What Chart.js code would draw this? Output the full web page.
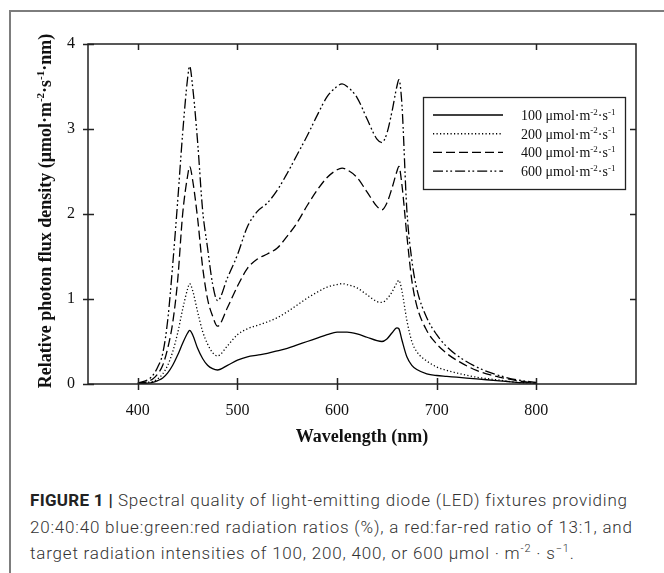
<!DOCTYPE html>
<html>
<head>
<meta charset="utf-8">
<script src="https://cdn.jsdelivr.net/npm/chart.js@4.4.1/dist/chart.umd.min.js"></script>
<style>
  html, body { margin: 0; padding: 0; background: #fff; }
  body { width: 664px; height: 573px; position: relative; overflow: hidden; }
  #frame { position: absolute; left: 9px; top: 10px; width: 700px; height: 600px;
           border-top: 2px solid #7d7d7d; border-left: 2px solid #7d7d7d; }
  #wrap { position: absolute; left: 0; top: 0; width: 664px; height: 460px; }
  #caption { position: absolute; left: 30px; top: 487px; font-family: Roboto, "Liberation Sans", sans-serif;
             font-weight: 300; font-size: 17px; line-height: 26.5px; letter-spacing: 0.8px;
             color: #333; white-space: nowrap; }
  #caption b { font-weight: bold; color: #222; letter-spacing: 0.3px; }
  #caption sup { font-size: 11px; line-height: 0; }
</style>
</head>
<body>
<div id="frame"></div>
<div id="wrap"><canvas id="chart" width="664" height="460"></canvas></div>
<div id="caption">
  <div><b>FIGURE 1 |</b> Spectral quality of light-emitting diode (LED) fixtures providing</div>
  <div>20:40:40 blue:green:red radiation ratios (%), a red:far-red ratio of 13:1, and</div>
  <div>target radiation intensities of 100, 200, 400, or 600 μmol · m<sup>-2</sup> · s<sup>−1</sup>.</div>
</div>
<script>
// wavelength grid (nm) and relative photon flux
const wavelengths = [400,410,415,420,425,430,435,440,445,450,452,455,460,465,470,475,480,490,500,510,
  520,530,540,550,560,570,580,590,600,605,610,620,630,640,645,650,655,660,662,665,
  670,675,680,690,700,710,720,740,760,780,800]

const flux100 = [0.0,0.01,0.02,0.04,0.07,0.13,0.22,0.34,0.48,0.6, 0.63,0.58,0.42,0.3,0.22,0.18,0.165,0.22,0.28,0.32,
  0.34,0.36,0.39,0.42,0.46,0.5,0.54,0.58,0.61,0.61, 0.61,0.59,0.55,0.51,0.5,0.53,0.6,0.66,0.65,0.52,
  0.32,0.22,0.17,0.12,0.1,0.09,0.08,0.06,0.04,0.02, 0.01]
const flux200 = [0.0,0.02,0.03,0.06,0.12,0.22,0.38,0.6,0.88,1.12, 1.18,1.1,0.85,0.62,0.47,0.37,0.33,0.45,0.58,0.65,
  0.69,0.73,0.78,0.85,0.93,1.01,1.08,1.14,1.17,1.18, 1.17,1.13,1.05,0.97,0.96,1.0,1.08,1.19,1.22,1.1,
  0.75,0.5,0.38,0.27,0.2,0.16,0.13,0.08,0.05,0.02, 0.01]
const flux400 = [0.01,0.03,0.06,0.12,0.22,0.42,0.72,1.22,2.0,2.45, 2.56,2.4,1.95,1.38,1.0,0.8,0.68,0.9,1.15,1.36,
  1.47,1.53,1.6,1.74,1.9,2.1,2.28,2.43,2.52,2.54, 2.52,2.43,2.26,2.09,2.05,2.13,2.3,2.5,2.56,2.35,
  1.75,1.22,0.92,0.63,0.47,0.36,0.28,0.16,0.09,0.04, 0.01]
const flux600 = [0.01,0.05,0.1,0.2,0.36,0.75,1.4,2.15,2.95,3.6, 3.74,3.5,2.85,2.05,1.6,1.18,0.98,1.25,1.52,1.85,
  2.03,2.13,2.28,2.48,2.7,2.92,3.16,3.38,3.5,3.53, 3.5,3.37,3.12,2.88,2.84,2.95,3.2,3.5,3.58,3.3,
  2.05,1.46,1.12,0.78,0.58,0.44,0.34,0.2,0.11,0.05, 0.02]

const intensities = ["100", "200", "400", "600"]
const xTicks = [400, 500, 600, 700, 800]
const yTicks = [0, 1, 2, 3, 4]

const ink = "#111"
const serif = "'Liberation Serif', 'Times New Roman', serif"

const dashes = [[], [1.2, 2.3], [9, 4], [10, 3, 1.8, 2.5, 1.8, 3]]
const series = [flux100, flux200, flux400, flux600]

const toPoints = (vals) => wavelengths.map((w, i) => ({ x: w, y: vals[i] }))

// draw text with superscript pieces, starting at x (left), baseline y
function richWidth(ctx, parts, size, weight) {
  let w = 0
  parts.forEach((p) => {
    ctx.font = `${weight} ${p.sup ? Math.round(size * 0.62) : size}px ${serif}`
    w += ctx.measureText(p.t).width
  })
  return w
}
function drawRich(ctx, parts, x, y, size, weight) {
  parts.forEach((p) => {
    ctx.font = `${weight} ${p.sup ? Math.round(size * 0.62) : size}px ${serif}`
    ctx.fillText(p.t, x, p.sup ? y - size * 0.38 : y)
    x += ctx.measureText(p.t).width
  })
}

const decorations = {
  id: "decorations",
  afterDraw(chart) {
    const { ctx, chartArea: a, scales } = chart
    const xs = scales.x, ys = scales.y
    ctx.save()
    ctx.strokeStyle = "#222"
    ctx.lineWidth = 1.5
    ctx.strokeRect(a.left, a.top, a.right - a.left, a.bottom - a.top)

    ctx.beginPath()
    xTicks.forEach((v) => {
      const px = Math.round(xs.getPixelForValue(v)) + 0.5
      ctx.moveTo(px, a.bottom - 6); ctx.lineTo(px, a.bottom + 6)
      ctx.moveTo(px, a.top); ctx.lineTo(px, a.top + 6)
    })
    yTicks.forEach((v) => {
      const py = Math.round(ys.getPixelForValue(v)) + 0.5
      ctx.moveTo(a.left - 5, py); ctx.lineTo(a.left + 6, py)
      if (v > 0 && v < 4) { ctx.moveTo(a.right - 6, py); ctx.lineTo(a.right, py) }
    })
    ctx.stroke()

    // y axis title
    const title = [
      { t: "Relative photon flux density (μmol·m" }, { t: "-2", sup: true },
      { t: "·s" }, { t: "-1", sup: true }, { t: "·nm)" },
    ]
    ctx.fillStyle = ink
    ctx.textBaseline = "alphabetic"
    ctx.textAlign = "left"
    const tw = richWidth(ctx, title, 18, "bold")
    ctx.translate(51, (a.top + a.bottom) / 2 - 3)
    ctx.rotate(-Math.PI / 2)
    drawRich(ctx, title, -tw / 2, 0, 18, "bold")
    ctx.setTransform(1, 0, 0, 1, 0, 0)

    // legend
    const box = { x: 423, y: 97, w: 202, h: 92 }
    ctx.lineWidth = 1.3
    ctx.strokeStyle = "#222"
    ctx.strokeRect(box.x + 0.5, box.y + 0.5, box.w, box.h)
    chart.data.datasets.forEach((ds, i) => {
      const y = 115 + i * 18.7
      ctx.beginPath()
      ctx.setLineDash(ds.borderDash || [])
      ctx.lineWidth = 1.4
      ctx.strokeStyle = "#000"
      ctx.moveTo(433, y); ctx.lineTo(503, y)
      ctx.stroke()
      ctx.setLineDash([])
      const parts = [{ t: ds.label + " μmol·m" }, { t: "-2", sup: true }, { t: "·s" }, { t: "-1", sup: true }]
      drawRich(ctx, parts, 521, y + 5, 14, "normal")
    })
    ctx.restore()
  },
}

new Chart(document.getElementById("chart"), {
  type: "line",
  data: {
    datasets: series.map((vals, i) => ({
      label: intensities[i],
      data: toPoints(vals),
      borderColor: "#000",
      borderWidth: 1.3,
      borderDash: dashes[i],
      pointRadius: 0,
      fill: false,
      cubicInterpolationMode: "monotone",
    })),
  },
  options: {
    responsive: false,
    animation: false,
    devicePixelRatio: 1,
    layout: { padding: { top: 44, right: 28, left: 0, bottom: 0 } },
    plugins: { legend: { display: false }, tooltip: { enabled: false } },
    scales: {
      x: {
        type: "linear", min: 350, max: 900,
        grid: { display: false, drawTicks: false },
        border: { display: false },
        afterBuildTicks: (s) => { s.ticks = xTicks.map((v) => ({ value: v })) },
        afterFit: (s) => { s.height = 460 - 384 },
        ticks: { font: { family: serif, size: 16 }, color: ink, padding: 17, maxRotation: 0 },
        title: { display: true, text: "Wavelength (nm)", color: ink,
                 font: { family: serif, size: 18, weight: "bold" }, padding: { top: 0, bottom: 12 } },
      },
      y: {
        min: 0, max: 4,
        grid: { display: false, drawTicks: false },
        border: { display: false },
        afterBuildTicks: (s) => { s.ticks = yTicks.map((v) => ({ value: v })) },
        afterFit: (s) => { s.width = 88 },
        ticks: { font: { family: serif, size: 16 }, color: ink, padding: 13 },
      },
    },
  },
  plugins: [decorations],
})
</script>
</body>
</html>
